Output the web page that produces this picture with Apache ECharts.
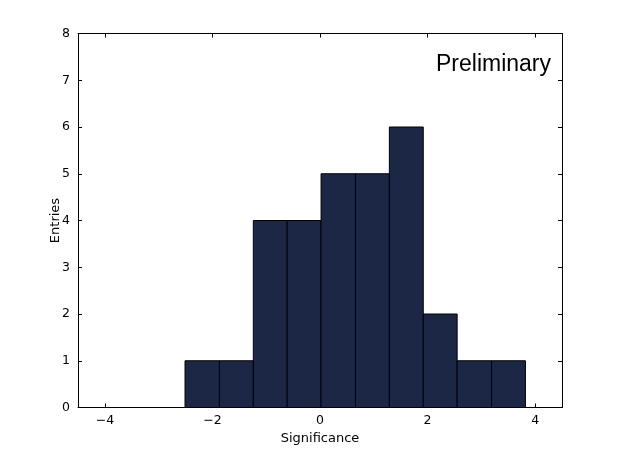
<!DOCTYPE html>
<html>
<head>
<meta charset="utf-8">
<script src="https://cdn.jsdelivr.net/npm/echarts@6/dist/echarts.min.js"></script>
<style>html,body{margin:0;padding:0;background:#fff}#c{width:625px;height:455px}</style>
</head>
<body>
<div id="c"></div>
<script>
var binEdges = [-2.51, -1.87, -1.24, -0.61, 0.02, 0.66, 1.29, 1.92, 2.55, 3.19, 3.82];
var counts = [1, 1, 4, 4, 5, 5, 6, 2, 1, 1];
var xTicks = [-4, -2, 0, 2, 4];
var yTicks = [0, 1, 2, 3, 4, 5, 6, 7, 8];

var data = counts.map(function (c, i) { return [binEdges[i], binEdges[i + 1], c]; });
var font = 'DejaVu Sans';
var tickFmt = function (v) { return v < 0 ? '\u2212' + Math.abs(v) : String(v); };

var chart = echarts.init(document.getElementById('c'), null, { renderer: 'canvas' });
var axisCommon = {
  axisLine: { show: true, onZero: false, lineStyle: { color: '#000', width: 1 } },
  axisTick: { show: true, inside: true, length: 4, lineStyle: { color: '#000' } },
  splitLine: { show: false }
};
chart.setOption({
  animation: false,
  grid: { left: 78, right: 63, top: 33.5, bottom: 47.5, containLabel: false },
  xAxis: [
    Object.assign({
      type: 'value', min: -4.5, max: 4.5, interval: 2,
      name: 'Significance', nameLocation: 'middle', nameGap: 24,
      nameTextStyle: { fontFamily: font, fontSize: 13, color: '#000' },
      axisLabel: { fontFamily: font, fontSize: 12.5, color: '#000', margin: 7,
        customValues: xTicks, formatter: tickFmt },
      axisTick: { show: true, inside: true, length: 4, lineStyle: { color: '#000' }, customValues: xTicks }
    }, { axisLine: axisCommon.axisLine, splitLine: axisCommon.splitLine }),
    Object.assign({
      type: 'value', min: -4.5, max: 4.5, position: 'top',
      axisLabel: { show: false },
      axisTick: { show: true, inside: true, length: 4, lineStyle: { color: '#000' }, customValues: xTicks }
    }, { axisLine: axisCommon.axisLine, splitLine: axisCommon.splitLine })
  ],
  yAxis: [
    Object.assign({
      type: 'value', min: 0, max: 8, interval: 1,
      name: 'Entries', nameLocation: 'middle', nameGap: 16, nameMoveOverlap: false,
      nameTextStyle: { fontFamily: font, fontSize: 13, color: '#000' },
      axisLabel: { fontFamily: font, fontSize: 12.5, color: '#000', margin: 8,
        customValues: yTicks }
    }, axisCommon),
    Object.assign({
      type: 'value', min: 0, max: 8, interval: 1, position: 'right',
      axisLabel: { show: false }
    }, axisCommon)
  ],
  graphic: [{
    type: 'text', right: 74, top: 53,
    style: { text: 'Preliminary', fontFamily: 'Liberation Sans', fontSize: 23, fill: '#000' }
  }],
  series: [{
    type: 'custom',
    xAxisIndex: 0, yAxisIndex: 0,
    data: data,
    encode: { x: [0, 1], y: 2 },
    renderItem: function (params, api) {
      var p0 = api.coord([api.value(0), 0]);
      var p1 = api.coord([api.value(1), api.value(2)]);
      return {
        type: 'rect',
        shape: { x: p0[0], y: p1[1], width: p1[0] - p0[0], height: p0[1] - p1[1] },
        style: { fill: '#1c2745', stroke: '#000', lineWidth: 1 }
      };
    }
  }]
});
</script>
</body>
</html>
